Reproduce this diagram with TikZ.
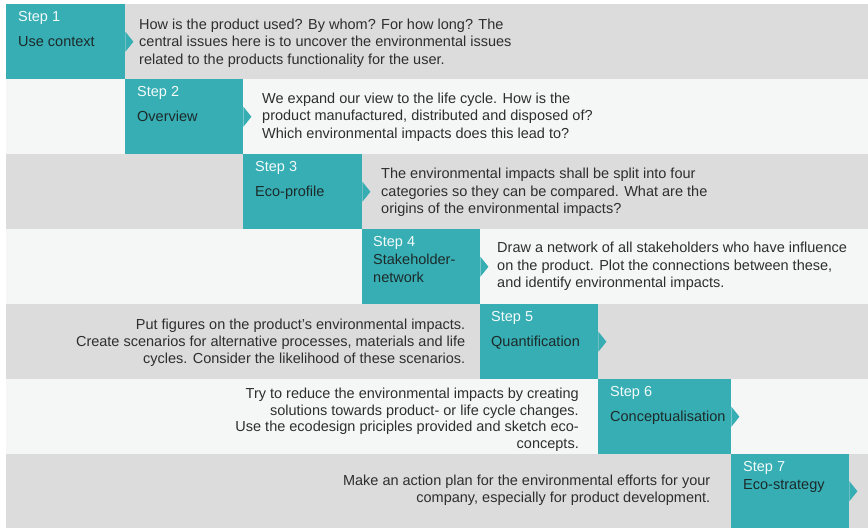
\documentclass[tikz,border=0pt]{standalone}
\usepackage{fontspec}
\setmainfont{Liberation Sans}
\usetikzlibrary{calc}
\definecolor{tealbox}{HTML}{37AEB4}
\definecolor{rowgray}{HTML}{DCDCDC}
\definecolor{rowlight}{HTML}{F5F7F7}
\definecolor{bodytext}{HTML}{2E2E2E}
\definecolor{headtext}{HTML}{F2FAFA}
\definecolor{nametext}{HTML}{1C2A2A}
\tikzset{
  stepbox/.style={fill=tealbox, draw=none, inner sep=0pt, minimum height=75pt, anchor=north west},
  stephead/.style={text=headtext, inner sep=0pt, anchor=base west, font=\fontsize{14.5}{18}\selectfont},
  stepname/.style={text=nametext, inner sep=0pt, anchor=base west, align=left, font=\fontsize{14.5}{18}\selectfont},
  bodyl/.style={text=bodytext, inner sep=0pt, anchor=base west, align=left, font=\fontsize{14.5}{17.5}\selectfont},
  bodyr/.style={text=bodytext, inner sep=0pt, anchor=base east, align=right, font=\fontsize{14.5}{17}\selectfont},
  notch/.style={fill=tealbox, draw=none}
}
\newcommand{\stepnotch}[1]{\fill[notch] ($(#1.east)+(0,-10)$) -- ($(#1.east)+(8,0)$) -- ($(#1.east)+(0,10)$) -- cycle;}
\begin{document}
\begin{tikzpicture}[x=1pt,y=-1pt]
\useasboundingbox (0,0) rectangle (868,528);
\fill[white] (0,0) rectangle (868,528);
% rows
\fill[rowgray]  (6,4)   rectangle (868,79);
\fill[rowlight] (6,79)  rectangle (868,154);
\fill[rowgray]  (6,154) rectangle (868,229);
\fill[rowlight] (6,229) rectangle (868,304);
\fill[rowgray]  (6,304) rectangle (868,379);
\fill[rowlight] (6,379) rectangle (868,454);
\fill[rowgray]  (6,454) rectangle (868,528);
% step boxes
\node[stepbox, minimum width=119pt] (s1) at (6,4) {};
\node[stepbox, minimum width=118pt] (s2) at (125,79) {};
\node[stepbox, minimum width=119pt] (s3) at (243,154) {};
\node[stepbox, minimum width=118pt] (s4) at (362,229) {};
\node[stepbox, minimum width=118pt] (s5) at (480,304) {};
\node[stepbox, minimum width=133pt] (s6) at (598,379) {};
\node[stepbox, minimum width=118pt, minimum height=74pt] (s7) at (731,454) {};
\stepnotch{s1}
\stepnotch{s2}
\stepnotch{s3}
\stepnotch{s4}
\stepnotch{s5}
\stepnotch{s6}
\stepnotch{s7}
% step labels
\node[stephead] (h1) at (18,21) {Step 1};
\node[stepname] (n1) at (18,46) {Use context};
\node[stephead] (h2) at (137,96) {Step 2};
\node[stepname] (n2) at (137,121) {Overview};
\node[stephead] (h3) at (255,171) {Step 3};
\node[stepname] (n3) at (255,196) {Eco-profile};
\node[stephead] (h4) at (373,246) {Step 4};
\node[stepname] (n4) at (373,282) {Stakeholder-\\network};
\node[stephead] (h5) at (491,321) {Step 5};
\node[stepname] (n5) at (491,346) {Quantification};
\node[stephead] (h6) at (610,396) {Step 6};
\node[stepname] (n6) at (610,421) {Conceptualisation};
\node[stephead] (h7) at (743,471) {Step 7};
\node[stepname] (n7) at (743,489) {Eco-strategy};
% body texts (anchor = baseline of the last line)
\node[bodyl] (t1) at (139,64) {How is the product used? By whom? For how long? The\\central issues here is to uncover the environmental issues\\related to the products functionality for the user.};
\node[bodyl] (t2) at (262,138.3) {We expand our view to the life cycle. How is the\\product manufactured, distributed and disposed of?\\Which environmental impacts does this lead to?};
\node[bodyl] (t3) at (381,213.5) {The environmental impacts shall be split into four\\categories so they can be compared. What are the\\origins of the environmental impacts?};
\node[bodyl] (t4) at (497,287.5) {Draw a network of all stakeholders who have influence\\on the product. Plot the connections between these,\\and identify environmental impacts.};
\node[bodyr] (t5) at (465.5,363.3) {Put figures on the product’s environmental impacts.\\Create scenarios for alternative processes, materials and life\\cycles. Consider the likelihood of these scenarios.};
\node[bodyr, font=\fontsize{14.5}{16.5}\selectfont] (t6) at (579,448) {Try to reduce the environmental impacts by creating\\solutions towards product- or life cycle changes.\\Use the ecodesign priciples provided and sketch eco-\\concepts.};
\node[bodyr, font=\fontsize{14.5}{16.6}\selectfont] (t7) at (710.5,502.3) {Make an action plan for the environmental efforts for your\\company, especially for product development.};
\end{tikzpicture}
\end{document}
